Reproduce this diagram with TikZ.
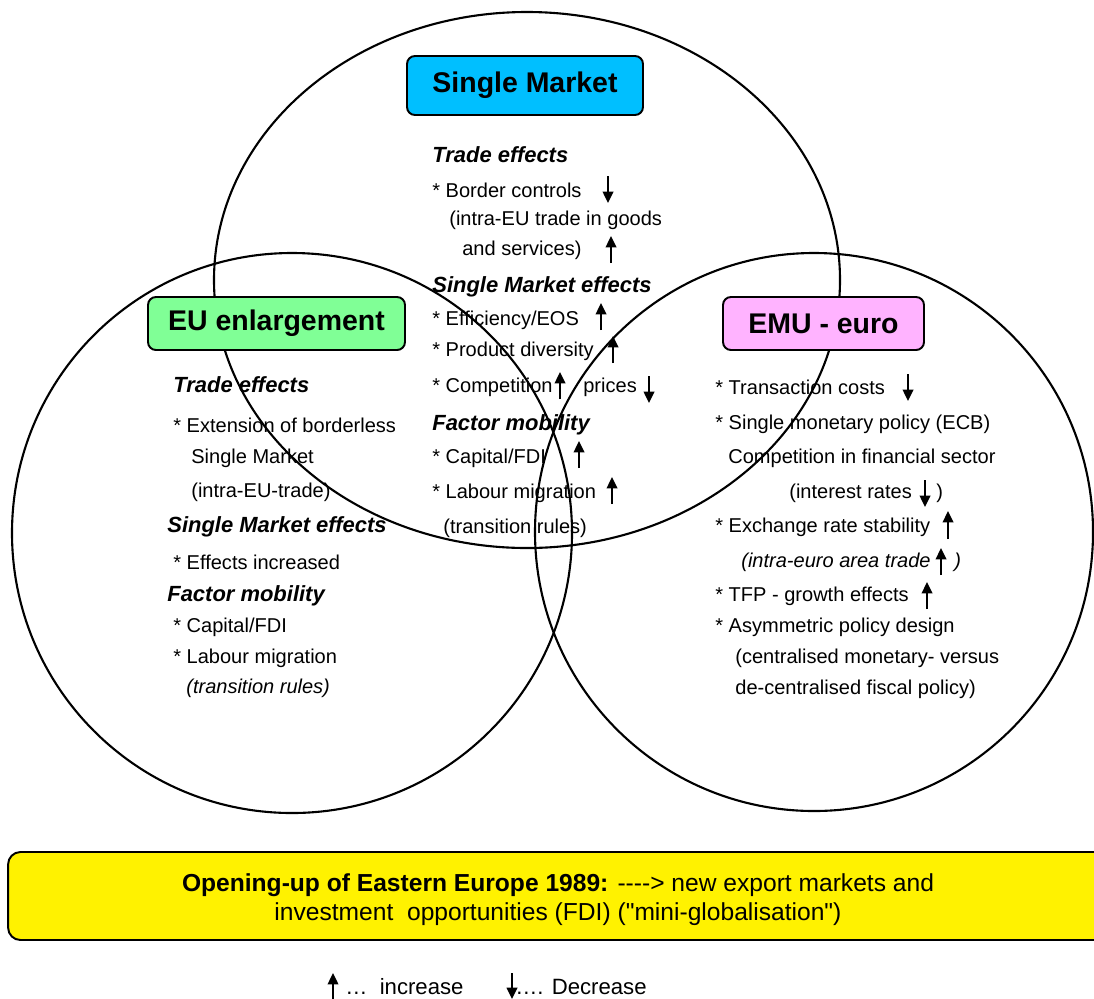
\documentclass[tikz,border=0pt]{standalone}
\usepackage{fontspec}
\setmainfont{Liberation Sans}
\usepackage{tikz}
\usetikzlibrary{arrows.meta}

\newcommand{\txtfont}{\fontsize{11.4}{13.7}\selectfont}
\newcommand{\hdfont}{\fontsize{16.2}{19}\selectfont\bfseries}
\newcommand{\subhdfont}{\fontsize{12.5}{15}\selectfont\bfseries\itshape}

\definecolor{smblue}{RGB}{0,191,255}
\definecolor{eugreen}{RGB}{128,255,150}
\definecolor{emupink}{RGB}{255,179,255}

\begin{document}
\begin{tikzpicture}[x=0.02cm, y=-0.02cm,
        ring/.style={line width=1.2pt},
        hdbox/.style={draw, line width=1.1pt, rounded corners=4.5pt, font=\hdfont, minimum height=1.06cm, inner sep=0pt},
        txt/.style={anchor=west, inner sep=0pt, font=\txtfont},
        subhd/.style={anchor=west, inner sep=0pt, font=\subhdfont},
        incr/.style={-{Triangle[width=6pt,length=6.5pt]}, line width=1.2pt}]
        \useasboundingbox (0, 0) rectangle (1094, 998);

        % the three circles
        \draw [ring] (527, 280) ellipse [x radius=313, y radius=268];
        \draw [ring] (292, 533) circle [radius=280];
        \draw [ring] (814, 532) circle [radius=279];

        \node[hdbox, fill=smblue, minimum width=4.72cm, minimum height=1.18cm] at (525, 85.5)   (sm) {Single Market};
        \node[hdbox, fill=eugreen, minimum width=5.14cm] at (276.5, 323.5)   (eu) {EU enlargement};
        \node[hdbox, fill=emupink, minimum width=4.02cm] at (823.5, 323.5)   (emu) {EMU - euro};

        % Single Market
        \node[subhd] at (432, 155)   (smtrade) {Trade effects};
        \node[txt] at (432, 190)   (smborder) {* Border controls};
        \node[txt] at (449, 220)   (smintra) {(intra-EU trade in goods};
        \node[txt] at (462, 250)   (smserv) {and services)};
        \node[subhd] at (432, 287)   (smeff) {Single Market effects};
        \node[txt] at (432, 320)   (smeos) {* Efficiency/EOS};
        \node[txt] at (432, 351)   (smdiv) {* Product diversity};
        \node[txt] at (432, 387)   (smcomp) {* Competition};
        \node[txt] at (583, 387)   (smprice) {prices};
        \node[subhd] at (432, 425)   (smfac) {Factor mobility};
        \node[txt] at (432, 458)   (smcap) {* Capital/FDI};
        \node[txt] at (432, 493)   (smlab) {* Labour migration};
        \node[txt] at (443, 528)   (smrules) {(transition rules)};
        \draw [incr] (608, 176) -- (608, 203);
        \draw [incr] (611, 263) -- (611, 236);
        \draw [incr] (601, 330) -- (601, 303);
        \draw [incr] (613, 363) -- (613, 336);
        \draw [incr] (560, 399) -- (560, 372);
        \draw [incr] (649, 376) -- (649, 403);
        \draw [incr] (579, 468) -- (579, 441);
        \draw [incr] (612, 504) -- (612, 477);

        % EU enlargement
        \node[subhd] at (173, 385)   (eutrade) {Trade effects};
        \node[txt] at (173, 425)   (euext) {* Extension of borderless};
        \node[txt] at (191, 458)   (eusm) {Single Market};
        \node[txt] at (191, 492)   (euintra) {(intra-EU-trade)};
        \node[subhd] at (167, 527)   (eueff) {Single Market effects};
        \node[txt] at (173, 562)   (euinc) {* Effects increased};
        \node[subhd] at (167, 596)   (eufac) {Factor mobility};
        \node[txt] at (173, 627)   (eucap) {* Capital/FDI};
        \node[txt] at (173, 658)   (eulab) {* Labour migration};
        \node[txt, font=\txtfont\itshape] at (186, 688)   (eurules) {(transition rules)};

        % EMU - euro
        \node[txt] at (715, 387)   (emucost) {* Transaction costs};
        \node[txt] at (715, 424)   (emupol) {* Single monetary policy (ECB)};
        \node[txt] at (728, 458)   (emucomp) {Competition in financial sector};
        \node[txt] at (789, 493)   (emurate) {(interest rates};
        \node[txt] at (936, 493)   (emuratecl) {)};
        \node[txt] at (715, 527)   (emuexch) {* Exchange rate stability};
        \node[txt, font=\txtfont\itshape] at (741, 562)   (emuintra) {(intra-euro area trade};
        \node[txt, font=\txtfont\itshape] at (954, 562)   (emuintracl) {)};
        \node[txt] at (715, 596)   (emutfp) {* TFP - growth effects};
        \node[txt] at (715, 627)   (emuasym) {* Asymmetric policy design};
        \node[txt] at (735, 658)   (emucent) {(centralised monetary- versus};
        \node[txt] at (735, 689)   (emudec) {de-centralised fiscal policy)};
        \draw [incr] (908, 374) -- (908, 401);
        \draw [incr] (925, 480) -- (925, 507);
        \draw [incr] (948, 539) -- (948, 511);
        \draw [incr] (941, 575) -- (941, 548);
        \draw [incr] (927, 609) -- (927, 582);

        \node[draw, fill=yellow, line width=1.1pt, rounded corners=7pt, minimum width=22.04cm, minimum height=1.76cm] at (559, 896)   (opening) {};
        \node[align=center, inner sep=0pt, font=\fontsize{14}{16.4}\selectfont] at (558, 900)   (openingtxt)
            {\textbf{Opening-up of Eastern Europe 1989:} -{}-{}-{}-> new export markets and\\investment\ \ opportunities (FDI) (\textquotedbl mini-globalisation\textquotedbl)};

        % legend
        \draw [incr] (333, 999) -- (333, 973);
        \node[txt, font=\fontsize{12.6}{15}\selectfont] at (345, 987)   (uplbl) {…\ \ increase};
        \draw [incr] (512, 973) -- (512, 999);
        \node[txt, font=\fontsize{12.6}{15}\selectfont] at (515, 987)   (dnlbl) {…. Decrease};
    \end{tikzpicture}
\end{document}
